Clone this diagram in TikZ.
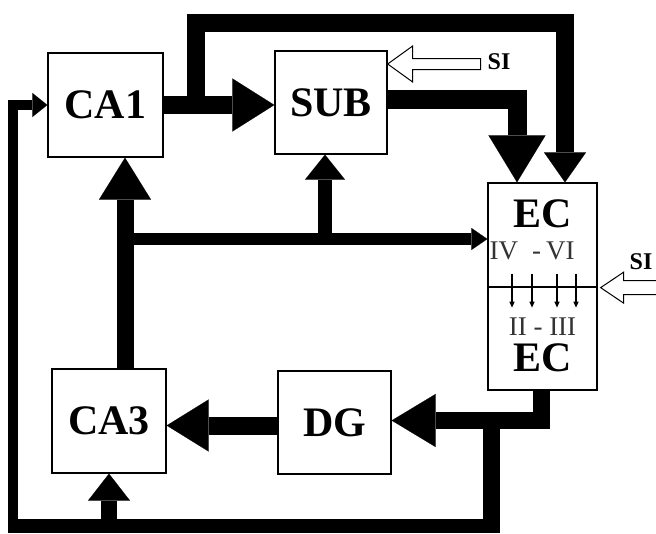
\documentclass[tikz,border=0pt]{standalone}
\usepackage{fontspec}
\setmainfont{Liberation Serif}
\usetikzlibrary{arrows.meta,calc}

\begin{document}
\begin{tikzpicture}[x=1pt,y=-1pt,
  box/.style={draw, line width=1.3pt, inner sep=0pt, font=\fontsize{42}{42}\selectfont\bfseries},
  big/.style={inner sep=0pt, font=\fontsize{42}{42}\selectfont\bfseries},
  roman/.style={inner sep=0pt, font=\fontsize{27}{27}\selectfont, text=black!80},
  silabel/.style={inner sep=0pt, font=\fontsize{24}{24}\selectfont\bfseries},
  pipe/.style={line width=#1, line join=miter, line cap=butt},
  hd/.style 2 args={-{Triangle[length=#1,width=#2,line width=0.1pt]}},
  hollow/.style={draw, line width=1pt, fill=white, line join=miter},
  tiny/.style={line width=1.2pt, -{Triangle[length=6pt,width=5pt]}}
]
\fill[white] (0,0) rectangle (656,533);
\useasboundingbox (0,0) rectangle (656,533);

% blocks
\node[box, minimum width=115pt, minimum height=104pt] (CA1) at (105.5,105) {CA1};
\node[box, minimum width=112pt, minimum height=103pt] (SUB) at (331,102.5) {SUB};
\node[box, minimum width=109pt, minimum height=104pt] (ECa) at (542.5,235) {};
\node[box, minimum width=109pt, minimum height=103pt] (ECb) at (542.5,338.5) {};
\node[box, minimum width=114pt, minimum height=104pt] (CA3) at (109,421) {CA3};
\node[box, minimum width=113pt, minimum height=103pt] (DG) at (334.5,422.5) {DG};

% entorhinal cortex labels
\node[big] (e1) at ([yshift=21pt]ECa.center) {EC};
\node[roman, anchor=west] (r1) at ([xshift=2pt,yshift=-16pt]ECa.west) {IV\hspace{14pt}-\hspace{5pt}VI};
\node[roman] (r2) at ([yshift=11.5pt]ECb.center) {II - III};
\node[big] (e2) at ([yshift=-19.5pt]ECb.center) {EC};
\foreach \dx in {-30.5,-10.5,14.5,33.5}
  \draw[tiny] ([xshift=\dx pt,yshift=14pt]ECa.south) -- ([xshift=\dx pt,yshift=-20pt]ECa.south);

% CA1 -> SUB
\draw[pipe=18pt, hd={42pt}{53pt}] (CA1.east) -- (CA1.east -| SUB.west);

% branch over the top into EC
\coordinate (j1) at ($(CA1.east)+(32,0)$);
\coordinate (topR) at (565,23);
\draw[pipe=18pt, hd={30pt}{42pt}] (j1) |- (topR) -- (topR |- ECa.north);

% SUB -> EC
\coordinate (subo) at ([yshift=3.5pt]SUB.east);
\coordinate (eci) at ([xshift=-25.5pt]ECa.north);
\draw[pipe=19pt, hd={47pt}{57pt}] (subo) -| (eci);

% CA3 -> CA1
\coordinate (c3top) at ([xshift=16pt]CA3.north);
\draw[pipe=17pt, hd={42pt}{52pt}] (c3top) -- (c3top |- CA1.south);

% side branch to EC and SUB
\coordinate (j2) at (c3top |- 0,239);
\draw[pipe=12pt, hd={16pt}{22pt}] (j2) -- (j2 -| ECa.west);
\coordinate (j3) at (325,239);
\draw[pipe=14pt, hd={25pt}{40pt}] (j3) -- (j3 |- SUB.south);

% DG -> CA3
\coordinate (dgw) at ([yshift=-3pt]DG.west);
\draw[pipe=18pt, hd={42pt}{52pt}] (dgw) -- (dgw -| CA3.east);

% EC -> DG
\coordinate (ecs) at ([xshift=-1.5pt]ECb.south);
\coordinate (dge) at ([yshift=2pt]DG.east);
\draw[pipe=17pt, hd={44pt}{53pt}] (ecs) |- (dge);

% return path along the bottom to CA3 and CA1
\coordinate (j4) at (491,420.5);
\draw[pipe=17pt] (j4) -- (j4 |- 0,533);
\coordinate (bR) at (499.5,526);
\coordinate (bL) at (8,526);
\draw[pipe=14pt] (bR) -- (bL);
\coordinate (lB) at (13,533);
\draw[pipe=10pt, hd={15pt}{24pt}] (lB) |- (CA1.west);
\coordinate (c3b) at (CA3.south |- 0,526);
\draw[pipe=16pt, hd={27pt}{42pt}] (c3b) -- (CA3.south);

% sensory inputs
\coordinate (si1t) at ([yshift=38.5pt]SUB.east);
\draw[hollow] (si1t) -- ++(25,-18) -- ++(0,12.5) -- ++(68,0) -- ++(0,11) -- ++(-68,0) -- ++(0,12.5) -- cycle;
\node[silabel] (si1) at (499,62) {SI};
\coordinate (si2t) at ([xshift=3pt]ECa.south east);
\draw[hollow] (si2t) -- ++(23,-15.5) -- ++(0,8.5) -- ++(40,0) -- ++(0,14) -- ++(-40,0) -- ++(0,8.5) -- cycle;
\node[silabel] (si2) at (641,262) {SI};
\end{tikzpicture}
\end{document}
